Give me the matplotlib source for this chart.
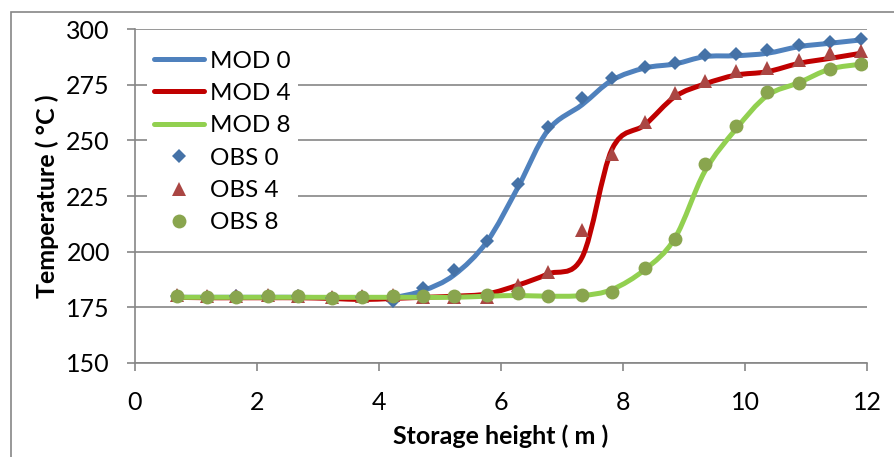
import numpy as np
import matplotlib
matplotlib.use("Agg")
import matplotlib.pyplot as plt
from matplotlib.path import Path
from matplotlib.patches import PathPatch, Rectangle
from matplotlib.lines import Line2D

plt.rcParams["font.family"] = ["Lato", "DejaVu Sans"]

# ---- data ----
height = [0.69, 1.18, 1.66, 2.18, 2.67, 3.23, 3.72, 4.23, 4.72, 5.23, 5.77, 6.28,
          6.77, 7.33, 7.82, 8.36, 8.85, 9.34, 9.85, 10.36, 10.89, 11.39, 11.90]

mod0 = [179.5, 179.5, 179.5, 179.5, 179.5, 179.3, 179.3, 179.5, 182.5, 189.5, 204.5, 229.0,
        254.5, 266.0, 277.0, 282.5, 284.3, 287.6, 288.0, 289.1, 292.1, 293.6, 295.1]
mod4 = [179.5, 179.3, 179.3, 179.3, 179.3, 179.0, 178.5, 179.0, 179.5, 180.0, 181.0, 185.0,
        190.0, 197.5, 246.0, 257.0, 269.6, 275.3, 279.3, 280.8, 284.6, 286.8, 289.1]
mod8 = [179.5, 179.5, 179.5, 179.5, 179.5, 179.5, 179.5, 179.5, 179.5, 179.5, 180.0, 180.3,
        180.0, 180.3, 183.0, 192.0, 206.0, 236.0, 255.0, 270.0, 276.0, 282.0, 284.2]

obs0 = [180.0, 179.8, 180.0, 180.2, 180.0, 179.2, 179.8, 178.0, 183.5, 191.8, 204.9, 230.2,
        256.1, 269.2, 278.1, 283.1, 284.9, 288.3, 288.8, 290.6, 292.8, 294.3, 295.4]
obs4 = [180.5, 180.0, 180.0, 180.5, 180.0, 179.5, 180.0, 180.5, 179.5, 179.5, 179.5, 185.0,
        191.0, 209.7, 243.9, 258.4, 271.1, 276.6, 281.3, 282.6, 286.1, 289.1, 290.3]
obs8 = [180.0, 179.8, 179.8, 180.0, 180.0, 179.1, 179.8, 180.0, 180.0, 180.0, 180.6, 181.3,
        180.1, 180.6, 182.0, 192.8, 205.7, 239.2, 256.6, 271.6, 275.6, 282.0, 284.1]

mod_labels = ["MOD 0", "MOD 4", "MOD 8"]
obs_labels = ["OBS 0", "OBS 4", "OBS 8"]
line_colors = ["#4F81BD", "#C00000", "#92D050"]
mark_colors = ["#4572A7", "#AA4643", "#89A54E"]
markers = ["D", "^", "o"]
msizes = [7.5, 10, 10]


def smooth_path(x, y):
    # Excel-style smoothed line: Catmull-Rom segments as cubic Beziers
    pts = np.column_stack([x, y])
    n = len(pts)
    verts = [pts[0]]
    codes = [Path.MOVETO]
    for i in range(n - 1):
        p0, p1 = pts[max(i - 1, 0)], pts[i]
        p2, p3 = pts[i + 1], pts[min(i + 2, n - 1)]
        verts += [p1 + (p2 - p0) / 6, p2 - (p3 - p1) / 6, p2]
        codes += [Path.CURVE4] * 3
    return Path(verts, codes)


W, H = 895, 457
fig = plt.figure(figsize=(W / 100, H / 100), dpi=100)
ax = fig.add_axes([0.1508, 0.2057, 0.8179, 0.7308])

grid_c = "#868686"
fs = 18
leg_fs = 17.5
handles = []
for ys, lab, c in zip([mod0, mod4, mod8], mod_labels, line_colors):
    ax.add_patch(PathPatch(smooth_path(height, ys), fill=False, edgecolor=c,
                           lw=3.6, capstyle="round", joinstyle="round", zorder=3))
    handles.append(Line2D([], [], color=c, lw=3.6, solid_capstyle="round", label=lab))
for ys, lab, c, m, ms in zip([obs0, obs4, obs8], obs_labels, mark_colors, markers, msizes):
    h, = ax.plot(height, ys, linestyle="none", marker=m, ms=ms, color=c,
                 markeredgewidth=0, label=lab, zorder=4)
    handles.append(h)

ax.set_xlim(0, 12)
ax.set_ylim(150, 300)
ax.set_xticks(range(0, 13, 2))
ax.set_yticks(range(150, 301, 25))
ax.yaxis.grid(True, color=grid_c, lw=1.2)
ax.set_axisbelow(True)
for s in ["top", "right"]:
    ax.spines[s].set_visible(False)
for s in ["left", "bottom"]:
    ax.spines[s].set_color(grid_c)
    ax.spines[s].set_linewidth(1.2)
ax.tick_params(direction="out", length=6, width=1.2, color=grid_c, labelsize=fs)
ax.tick_params(axis="y", pad=12)
ax.tick_params(axis="x", pad=14)

ax.set_xlabel("Storage height ( m )", fontsize=fs, fontweight="bold", labelpad=8)
ax.set_ylabel("Temperature ( °C )", fontsize=fs, fontweight="bold", labelpad=5)


def make_legend(anchor, spacing):
    return ax.legend(handles=handles, loc="upper left", bbox_to_anchor=anchor,
                     bbox_transform=fig.transFigure, fontsize=leg_fs, frameon=True,
                     fancybox=False, edgecolor="none", framealpha=1,
                     handlelength=2.05, handletextpad=0.25,
                     labelspacing=spacing, borderpad=0.3)


# place legend rows where the reference has them (pixels from top-left)
first_row, last_row, text_left = 61, 223, 210
anchor = [0.12, 0.96]
spacing = 0.35
renderer = fig.canvas.get_renderer()
for _ in range(3):
    leg = make_legend(tuple(anchor), spacing)
    fig.canvas.draw()
    ext = [t.get_window_extent(renderer) for t in leg.get_texts()]
    y0 = H - (ext[0].y0 + ext[0].y1) / 2
    y5 = H - (ext[-1].y0 + ext[-1].y1) / 2
    step = (y5 - y0) / 5
    spacing += ((last_row - first_row) / 5 - step) / (leg_fs * 100 / 72)
    anchor[0] += (text_left - ext[0].x0) / W
    anchor[1] -= (first_row - y0) / H
leg = make_legend(tuple(anchor), spacing)

# outer chart border (cropped at right and bottom in the reference)
fig.patches.append(Rectangle((11 / W, -0.05), 1.2, 1 - 12 / H + 0.05,
                             transform=fig.transFigure, fill=False,
                             edgecolor=grid_c, lw=1.2))

fig.savefig("out.png", dpi=100)
